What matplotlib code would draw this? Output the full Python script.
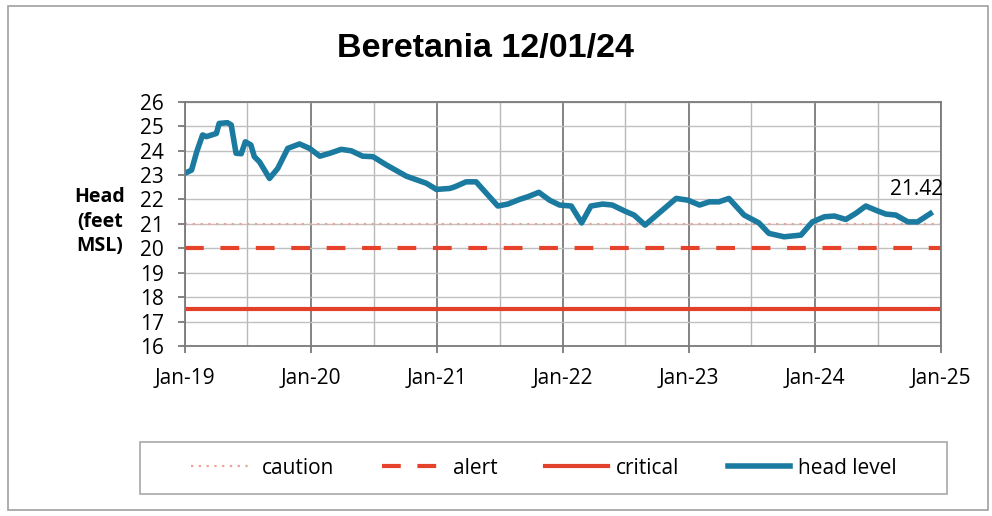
import matplotlib
matplotlib.use("Agg")
import matplotlib.pyplot as plt
import matplotlib.dates as mdates
from matplotlib.patches import Rectangle
import pandas as pd

# head level readings
dates = ["2019-01-01", "2019-01-20", "2019-02-04", "2019-02-21", "2019-03-04", "2019-04-02",
         "2019-04-10", "2019-05-04", "2019-05-15", "2019-05-29", "2019-06-13", "2019-06-25",
         "2019-07-11", "2019-07-21", "2019-08-05", "2019-09-03", "2019-09-27", "2019-10-26",
         "2019-11-29", "2019-12-28", "2020-01-27", "2020-02-25", "2020-03-29", "2020-04-27",
         "2020-05-30", "2020-06-29", "2020-08-07", "2020-10-04", "2020-12-01", "2020-12-30",
         "2021-02-07", "2021-02-22", "2021-03-26", "2021-04-24", "2021-06-26", "2021-07-25",
         "2021-08-28", "2021-09-21", "2021-10-23", "2021-11-23", "2021-12-22", "2022-01-25",
         "2022-02-24", "2022-03-23", "2022-04-26", "2022-05-24", "2022-06-28", "2022-07-26",
         "2022-08-27", "2022-10-07", "2022-11-25", "2022-12-29", "2023-02-01", "2023-03-01",
         "2023-03-29", "2023-04-27", "2023-06-10", "2023-07-23", "2023-08-21", "2023-10-04",
         "2023-11-22", "2023-12-25", "2024-01-29", "2024-02-27", "2024-03-31", "2024-04-29",
         "2024-05-28", "2024-07-01", "2024-07-25", "2024-08-23", "2024-09-27", "2024-10-25",
         "2024-12-01"]
head = [23.07, 23.20, 23.95, 24.64, 24.57, 24.70,
        25.11, 25.14, 25.05, 23.89, 23.87, 24.36,
        24.23, 23.75, 23.54, 22.86, 23.27, 24.09,
        24.27, 24.09, 23.77, 23.89, 24.05, 23.99,
        23.77, 23.75, 23.41, 22.95, 22.66, 22.41,
        22.45, 22.52, 22.72, 22.72, 21.73, 21.81,
        22.00, 22.11, 22.29, 21.97, 21.77, 21.73,
        21.04, 21.73, 21.81, 21.77, 21.53, 21.36,
        20.95, 21.45, 22.04, 21.97, 21.77, 21.90,
        21.90, 22.04, 21.36, 21.04, 20.61, 20.47,
        20.54, 21.08, 21.29, 21.32, 21.18, 21.43,
        21.73, 21.53, 21.40, 21.36, 21.08, 21.08,
        21.42]

caution = 21
alert = 20
critical = 17.5
last_label = "21.42"

title = "Beretania 12/01/24"
ylabel = "Head\n(feet\nMSL)"

t = pd.to_datetime(dates)
x0 = pd.Timestamp("2019-01-01")
x1 = pd.Timestamp("2025-01-01")

fig = plt.figure(figsize=(9.92, 5.16), dpi=100)
fig.patch.set_facecolor("white")
# outer chart border and legend box
fig.patches.append(Rectangle((8 / 992, 6 / 516), 980 / 992, 504 / 516,
                             transform=fig.transFigure, fill=False,
                             edgecolor="#a0a0a0", lw=1.2))
fig.patches.append(Rectangle((140 / 992, 1 - 494 / 516), 807 / 992, 52 / 516,
                             transform=fig.transFigure, fill=False,
                             edgecolor="#a8a8a8", lw=1.2))

ax = fig.add_axes([185 / 992, 1 - 346 / 516, 756 / 992, 244.3 / 516])

ax.plot([x0, x1], [caution, caution], color="#eaa497", lw=1.6,
        linestyle=(0, (1, 2.5)), label="caution")
ax.plot([x0, x1], [alert, alert], color="#e6412b", lw=3,
        linestyle=(0, (4.5, 4)), label="alert")
ax.plot([x0, x1], [critical, critical], color="#e3402c", lw=3,
        label="critical")
ax.plot(t, head, color="#1b7aa0", lw=4, solid_joinstyle="round",
        label="head level")

ax.annotate(last_label, (t[-1], head[-1]), xytext=(9, 10),
            textcoords="offset points", ha="right", va="bottom",
            fontsize=15, family="Open Sans")

ax.set_xlim(x0, x1)
ax.set_ylim(16, 26)
ax.set_yticks(range(16, 27))

ax.xaxis.set_major_locator(mdates.YearLocator())
ax.xaxis.set_major_formatter(mdates.DateFormatter("%b-%y"))
ax.xaxis.set_minor_locator(mdates.MonthLocator(bymonth=7))

ax.grid(True, which="major", axis="x", color="#7a7a7a", lw=1.3)
ax.grid(True, which="minor", axis="x", color="#b8b8b8", lw=1.0)
ax.grid(True, which="major", axis="y", color="#c0c0c0", lw=1.0)
ax.set_axisbelow(True)

for s in ax.spines.values():
    s.set_color("#7a7a7a")
    s.set_linewidth(1.3)

ax.tick_params(axis="both", which="major", labelsize=15, length=5,
               color="#7a7a7a", width=1.3)
ax.tick_params(axis="x", which="minor", length=0)
ax.tick_params(axis="x", pad=11)
ax.tick_params(axis="y", pad=10)
for lab in ax.get_xticklabels() + ax.get_yticklabels():
    lab.set_family("Open Sans")

fig.text(485 / 992, 1 - 49 / 516, title, ha="center", va="center",
         fontsize=24.5, fontweight="bold", family="Liberation Sans")
fig.text(100 / 992, 1 - 222 / 516, ylabel, ha="center", va="center",
         fontsize=14, fontweight="bold", family="Open Sans", linespacing=1.3)

leg = fig.legend(loc="center", ncol=4,
                 bbox_to_anchor=(544 / 992, 1 - 468 / 516),
                 frameon=False, borderaxespad=0,
                 prop={"family": "Open Sans", "size": 15},
                 handlelength=3.0, handletextpad=0.4, columnspacing=2.3)

fig.savefig("out.png", dpi=100)
